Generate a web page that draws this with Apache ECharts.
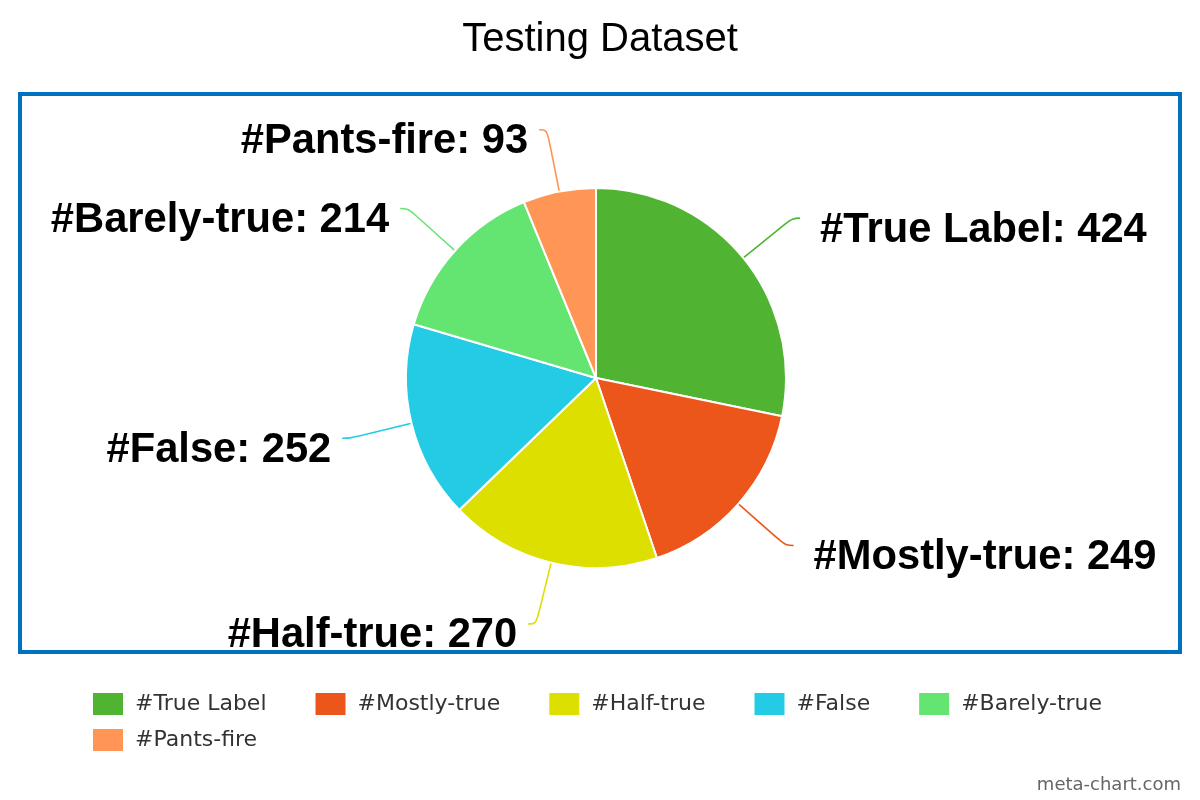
<!DOCTYPE html>
<html>
<head>
<meta charset="utf-8">
<script src="https://cdn.jsdelivr.net/npm/echarts@6/dist/echarts.min.js"></script>
<style>
html,body{margin:0;padding:0;background:#fff;}
#chart{width:1200px;height:800px;}
</style>
</head>
<body>
<div id="chart"></div>
<script>
const titleText = 'Testing Dataset';
const categories = ['#True Label', '#Mostly-true', '#Half-true', '#False', '#Barely-true', '#Pants-fire'];
const values = [424, 249, 270, 252, 214, 93];
const colors = ['#50B432', '#ED561B', '#DDDF00', '#24CBE5', '#64E572', '#FF9655'];
const creditText = 'meta-chart.com';

const ARIAL = '"Liberation Sans", Arial, Helvetica, sans-serif';
const chart = echarts.init(document.getElementById('chart'), null, {renderer: 'canvas'});

const legendText = {
  fontFamily: '"DejaVu Sans", Verdana, sans-serif',
  fontSize: 22,
  color: '#333333',
  padding: [0, 0, 0, 6]
};

// pie is drawn clockwise from 12 o'clock; right-hand labels sit a little further from their leader lines
const total = values.reduce((a, b) => a + b, 0);
let acc = 0;
const pieData = categories.map((c, i) => {
  const mid = (acc + values[i] / 2) / total;
  acc += values[i];
  const rightSide = mid < 0.5;
  return {
    name: c,
    value: values[i],
    label: {distanceToLabelLine: rightSide ? 20 : 11}
  };
});

const option = {
  animation: false,
  backgroundColor: '#ffffff',
  color: colors,
  title: [
    {
      text: titleText,
      left: 'center',
      top: 15,
      textStyle: {fontFamily: ARIAL, fontSize: 40, fontWeight: 'normal', color: '#000000'}
    },
    {
      text: creditText,
      right: 19,
      bottom: 6,
      padding: 0,
      textStyle: {fontFamily: '"DejaVu Sans", sans-serif', fontSize: 18, fontWeight: 'normal', color: '#666666'}
    }
  ],
  graphic: [
    {
      type: 'rect',
      shape: {x: 20, y: 94, width: 1160, height: 558},
      style: {fill: 'none', stroke: '#0070C0', lineWidth: 4},
      silent: true,
      z: -1
    }
  ],
  legend: [
    {
      data: categories.slice(0, 5),
      orient: 'horizontal',
      left: 91,
      top: 691,
      padding: 0,
      itemWidth: 32,
      itemHeight: 24,
      itemGap: 47,
      icon: 'rect',
      textStyle: legendText
    },
    {
      data: categories.slice(5),
      orient: 'horizontal',
      left: 91,
      top: 727,
      padding: 0,
      itemWidth: 32,
      itemHeight: 24,
      itemGap: 47,
      icon: 'rect',
      textStyle: legendText
    }
  ],
  series: [
    {
      type: 'pie',
      center: [596, 378],
      radius: 190,
      startAngle: 90,
      clockwise: true,
      avoidLabelOverlap: true,
      data: pieData,
      itemStyle: {borderColor: '#ffffff', borderWidth: 2},
      label: {
        show: true,
        formatter: '{v|{b}: {c}}',
        distanceToLabelLine: 15,
        rich: {
          v: {
            fontFamily: ARIAL,
            fontSize: 41.7,
            fontWeight: 'bold',
            color: '#000000',
            padding: [24, 0, 0, 0]
          }
        }
      },
      labelLine: {
        show: true,
        length: 63,
        length2: 8,
        smooth: 0.4,
        lineStyle: {width: 1.6}
      },
      emphasis: {disabled: true}
    }
  ]
};
chart.setOption(option);
</script>
</body>
</html>
